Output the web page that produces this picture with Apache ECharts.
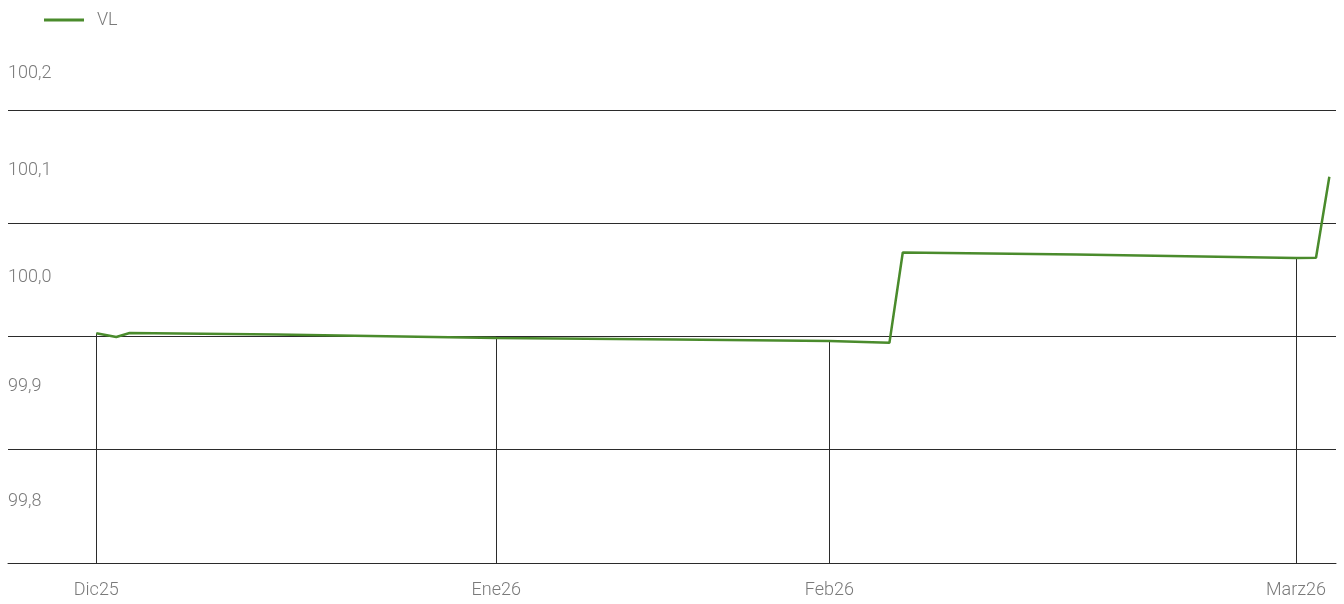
<!DOCTYPE html>
<html>
<head>
<meta charset="utf-8">
<title>VL</title>
<script src="https://cdn.jsdelivr.net/npm/echarts@6/dist/echarts.min.js"></script>
<style>
  html, body { margin: 0; padding: 0; background: #fff; }
  #chart { width: 1344px; height: 604px; }
</style>
</head>
<body>
<div id="chart"></div>
<script>
'use strict';
// datos
var seriesName = 'VL';
var pointIdx = [13, 16, 18, 40, 73, 100, 123, 132, 134, 160, 193, 196, 198];
var vlValues = [100.0028, 99.9996, 100.0031, 100.0018, 99.9987, 99.9973, 99.996, 99.9945, 100.0742, 100.0724, 100.0693, 100.0696, 100.1411];
var monthLabels = ['Dic25', 'Ene26', 'Feb26', 'Marz26'];
var monthIdx = [13, 73, 123, 193];
var yLabels = ['99,8', '99,9', '100,0', '100,1', '100,2'];

var yMin = 99.8, yMax = 100.2;
// cuanto sube cada etiqueta del eje y sobre su linea
var labelLift = [62, 63, 59, 53, 37];

var font = 'Roboto';
var textColor = '#7a7a7a';
var lineColor = '#2b2b2b';
var green = '#4a8b2c';

var lineData = pointIdx.map(function (x, i) {
  return [x, vlValues[i]];
});
var dropData = monthIdx.map(function (x) {
  return [x, vlValues[pointIdx.indexOf(x)]];
});

var rich = {};
for (var i = 0; i < yLabels.length; i++) {
  rich['o' + i] = {
    fontFamily: font,
    fontWeight: 300,
    fontSize: 18,
    color: textColor,
    padding: [0, 0, labelLift[i] * 2, 0]
  };
}

var chart = echarts.init(document.getElementById('chart'));
chart.setOption({
  animation: false,
  backgroundColor: '#fff',
  legend: {
    left: 39,
    top: 6,
    itemWidth: 40,
    itemHeight: 3,
    itemGap: 10,
    textStyle: { fontFamily: font, fontWeight: 300, fontSize: 18, color: textColor, padding: [0, 0, 0, 8] },
    data: [{ name: seriesName, icon: 'rect', itemStyle: { color: green } }]
  },
  grid: { left: 8, right: 8, top: 110, bottom: 41, containLabel: false },
  xAxis: {
    type: 'value',
    min: -0.25,
    max: 199,
    axisLine: { show: true, lineStyle: { color: lineColor, width: 1 } },
    axisTick: { show: false },
    splitLine: { show: false },
    axisLabel: {
      customValues: monthIdx,
      margin: 18,
      fontFamily: font,
      fontWeight: 300,
      fontSize: 18,
      color: textColor,
      formatter: function (v) {
        var k = monthIdx.indexOf(Math.round(v));
        return k >= 0 ? monthLabels[k] : '';
      }
    }
  },
  yAxis: {
    type: 'value',
    min: yMin,
    max: yMax,
    interval: 0.1,
    axisLine: { show: false },
    axisTick: { show: false },
    splitLine: { show: true, lineStyle: { color: lineColor, width: 1 } },
    axisLabel: {
      inside: true,
      margin: 0,
      showMinLabel: true,
      showMaxLabel: true,
      verticalAlign: 'middle',
      formatter: function (v) {
        var k = Math.round((v - yMin) * 10);
        return '{o' + k + '|' + yLabels[k] + '}';
      },
      rich: rich
    }
  },
  series: [
    {
      type: 'custom',
      silent: true,
      z: 1,
      data: dropData,
      renderItem: function (params, api) {
        var top = api.coord([api.value(0), api.value(1)]);
        var bottom = api.coord([api.value(0), yMin]);
        var x = Math.round(top[0]) + 0.5;
        return {
          type: 'line',
          shape: { x1: x, y1: top[1], x2: x, y2: bottom[1] },
          style: { stroke: lineColor, lineWidth: 1 }
        };
      }
    },
    {
      name: seriesName,
      type: 'line',
      z: 3,
      symbol: 'none',
      data: lineData,
      lineStyle: { color: green, width: 2.5 },
      itemStyle: { color: green }
    }
  ]
});
</script>
</body>
</html>
